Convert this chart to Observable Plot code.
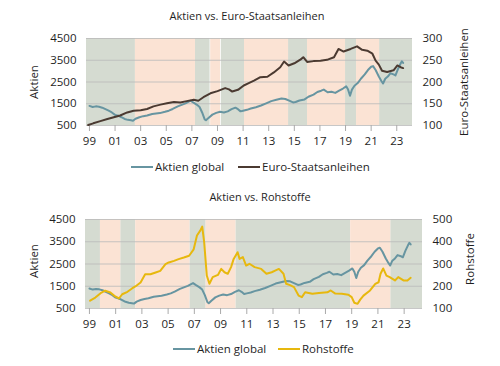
<!DOCTYPE html>
<html><head><meta charset="utf-8">
<script src="https://cdn.jsdelivr.net/npm/d3@7"></script>
<script src="https://cdn.jsdelivr.net/npm/@observablehq/plot@0.6"></script>
<style>
body{margin:0;background:#fff;font-family:"Open Sans",sans-serif;}
#wrap{position:relative;width:500px;height:366px;overflow:hidden;}
.t{position:absolute;font-size:11px;line-height:15px;color:#1f1f1f;white-space:nowrap;transform:translateX(-50%);}
.ax{position:absolute;font-size:11.5px;line-height:15px;color:#1f1f1f;white-space:nowrap;transform:translate(-50%,-50%) rotate(-90deg);}
.lg{position:absolute;font-size:11.5px;line-height:15px;color:#1f1f1f;display:flex;align-items:center;white-space:nowrap}
.sw{display:inline-block;width:22px;height:2px;margin-right:2px}
#wrap svg{position:absolute;left:0}
</style></head><body><div id="wrap"></div>
<script>
// ---- Aktien global (visual time axis, decimal years) ----
const aktienYear = [1999.0,1999.25,1999.5,1999.75,2000.0,2000.25,2000.5,2000.75,2001.0,2001.25,2001.5,2001.75,2002.0,2002.25,2002.4,2002.6,2002.9,2003.2,2003.5,2003.9,2004.2,2004.5,2004.9,2005.2,2005.5,2005.9,2006.2,2006.5,2006.9,2007.1,2007.4,2007.6,2007.8,2008.0,2008.1,2008.3,2008.6,2008.9,2009.2,2009.5,2009.8,2010.1,2010.4,2010.6,2010.8,2011.0,2011.3,2011.6,2012.0,2012.4,2012.8,2013.2,2013.6,2014.0,2014.3,2014.6,2014.9,2015.1,2015.4,2015.8,2016.1,2016.5,2016.8,2017.1,2017.3,2017.6,2017.9,2018.2,2018.5,2018.8,2019.05,2019.2,2019.35,2019.5,2019.7,2019.95,2020.2,2020.5,2020.75,2021.0,2021.15,2021.35,2021.6,2021.8,2021.93,2022.1,2022.3,2022.5,2022.75,2022.9,2023.1,2023.3,2023.4,2023.5];
const aktienValue = [1400,1350,1380,1360,1320,1250,1180,1100,990,950,880,800,760,740,720,810,880,930,960,1030,1050,1070,1130,1180,1260,1380,1450,1520,1640,1560,1450,1350,1100,780,740,850,1000,1080,1130,1100,1150,1250,1320,1250,1150,1180,1220,1280,1340,1420,1520,1620,1680,1740,1720,1640,1560,1580,1650,1700,1820,1920,2040,2100,2150,2030,2050,2000,2100,2200,2300,2150,1870,2150,2330,2450,2650,2850,3050,3200,3230,3050,2750,2550,2430,2650,2750,2900,2850,2800,3100,3350,3450,3380];

// ---- Euro-Staatsanleihen ----
const bondYear = [1998.9,1999.3,1999.85,2000.4,2000.9,2001.4,2001.95,2002.45,2003.0,2003.5,2004.0,2004.55,2005.05,2005.6,2006.1,2006.6,2007.15,2007.5,2007.9,2008.45,2009.0,2009.6,2009.9,2010.15,2010.6,2011.05,2011.4,2011.85,2012.35,2012.9,2013.4,2013.9,2014.2,2014.55,2015.0,2015.5,2015.7,2016.0,2016.5,2017.05,2017.55,2018.1,2018.45,2018.85,2019.4,2019.9,2020.3,2020.7,2021.1,2021.35,2021.6,2021.85,2022.25,2022.75,2023.05,2023.3,2023.5];
const bondValue = [101,105,110,115,119,123,130,134,135,138,144,148,151,154,153,156,159,157,165,174,179,186,183,178,182,192,197,203,211,212,222,234,247,238,243,252,257,246,248,249,251,257,276,270,276,282,274,272,265,249,240,226,223,227,238,234,232];

// ---- Rohstoffe ----
const rohYear = [1999.05,1999.45,1999.85,2000.2,2000.6,2000.9,2001.25,2001.5,2001.9,2002.25,2002.5,2002.9,2003.25,2003.65,2004.05,2004.4,2004.8,2005.05,2005.45,2005.8,2006.2,2006.6,2006.95,2007.2,2007.45,2007.6,2007.75,2007.85,2007.95,2008.15,2008.4,2008.8,2009.05,2009.3,2009.55,2009.8,2010.0,2010.3,2010.45,2010.7,2010.95,2011.2,2011.6,2012.1,2012.5,2012.9,2013.2,2013.45,2013.8,2014.0,2014.3,2014.6,2014.95,2015.2,2015.45,2016.0,2016.5,2017.15,2017.4,2017.75,2018.25,2018.75,2019.0,2019.2,2019.45,2019.65,2019.9,2020.4,2020.8,2021.05,2021.2,2021.4,2021.65,2021.9,2022.3,2022.55,2022.95,2023.25,2023.5];
const rohValue = [135,149,169,180,172,157,145,164,175,190,199,217,254,254,262,269,299,307,314,322,329,337,366,428,450,468,398,323,248,211,241,251,278,263,256,286,323,353,323,331,293,301,286,278,256,263,271,278,256,211,205,196,158,151,173,166,170,173,181,167,166,162,151,126,121,140,158,181,211,218,256,280,248,241,226,241,226,226,238];

// ---- Regime shading ----
const regimeTopStart = [1998.77,2002.59,2007.28,2008.47,2009.3,2011.11,2014.55,2016.03,2019.0,2019.86,2021.66];
const regimeTopEnd   = [2002.59,2007.28,2008.42,2009.24,2011.11,2014.55,2016.03,2019.0,2019.86,2021.66,2024.23];
const regimeTopKind  = ["g","p","g","p","g","p","g","p","g","p","g"];
const regimeBotStart = [1998.7,1999.84,2001.39,2002.53,2006.66,2007.9,2010.17,2018.92,2021.98];
const regimeBotEnd   = [1999.84,2001.39,2002.53,2006.66,2007.9,2010.17,2018.92,2021.98,2024.4];
const regimeBotKind  = ["g","p","g","p","g","p","g","p","g"];

// ---- Ticks ----
const xTicks = [1999,2001,2003,2005,2007,2009,2011,2013,2015,2017,2019,2021,2023];
const leftTicks = [500,1500,2500,3500,4500];
const bondTicks = [100,150,200,250,300];
const rohTicks = [100,200,300,400,500];

const COLORS = {aktien:"#6795a1", bond:"#4b3a31", roh:"#e7b80e", g:"#d5dbd1", p:"#fbe3d4"};

const zip = (xs, vs) => xs.map((x,i)=>({year:x, v:vs[i]}));
const regimes = (s,e,k) => s.map((x,i)=>({start:x, end:e[i], kind:k[i]}));
const yy = d => String(d % 100).padStart(2,"0");

function chart(o){
  const reg = regimes(o.rs, o.re, o.rk);
  return Plot.plot({
    width:500, height:o.height,
    marginTop:o.mt, marginBottom:o.mb, marginLeft:o.ml, marginRight:o.mr,
    style:{fontFamily:"Open Sans, sans-serif", fontSize:"11.5px", color:"#1f1f1f", background:"transparent", overflow:"visible"},
    x:{type:"linear", domain:o.domain},
    y:{domain:[500,4500]},
    marks:[
      Plot.rect(reg.filter(d=>d.kind==="g"), {x1:"start", x2:"end", fill:COLORS.g}),
      Plot.rect(reg.filter(d=>d.kind==="p"), {x1:"start", x2:"end", fill:COLORS.p}),
      Plot.gridY(leftTicks, {stroke:"#b9b9b9", strokeOpacity:0.8, strokeWidth:1}),
      Plot.axisX(xTicks, {tickFormat:yy, tickSize:6, tickPadding:5, stroke:"#aaa", label:null}),
      Plot.axisY(leftTicks, {anchor:"left", tickSize:0, tickPadding:10, tickFormat:d=>String(d), label:null}),
      Plot.axisY(o.rt.map(o.map), {anchor:"right", tickSize:0, tickPadding:10, tickFormat:d=>String(Math.round(o.inv(d))), label:null}),
      Plot.line(zip(aktienYear, aktienValue), {x:"year", y:"v", stroke:COLORS.aktien, strokeWidth:2}),
      Plot.line(zip(o.sy, o.sv), {x:"year", y:d=>o.map(d.v), stroke:o.color, strokeWidth:2})
    ]
  });
}

const wrap = document.getElementById("wrap");
const mapB = v => 500 + (v-100)*20, invB = y => 100 + (y-500)/20;
const mapR = v => 500 + (v-100)*10, invR = y => 100 + (y-500)/10;

const chartTop = chart({height:160, mt:38, mb:35, ml:86, mr:88, domain:[1998.77,2024.23],
  rs:regimeTopStart, re:regimeTopEnd, rk:regimeTopKind, rt:bondTicks, map:mapB, inv:invB,
  sy:bondYear, sv:bondValue, color:COLORS.bond});
chartTop.style.top = "0px";
wrap.appendChild(chartTop);

const chartBot = chart({height:160, mt:39, mb:32, ml:85, mr:78, domain:[1998.7,2024.4],
  rs:regimeBotStart, re:regimeBotEnd, rk:regimeBotKind, rt:rohTicks, map:mapR, inv:invR,
  sy:rohYear, sv:rohValue, color:COLORS.roh});
chartBot.style.top = "180px";
wrap.appendChild(chartBot);

function add(html){ const d=document.createElement("div"); d.innerHTML=html; wrap.appendChild(d.firstElementChild); }
add(`<div class="t" style="left:247px;top:8px">Aktien vs. Euro-Staatsanleihen</div>`);
add(`<div class="t" style="left:260px;top:189px">Aktien vs. Rohstoffe</div>`);
add(`<div class="ax" style="left:33px;top:82px">Aktien</div>`);
add(`<div class="ax" style="left:463px;top:82px">Euro-Staatsanleihen</div>`);
add(`<div class="ax" style="left:33px;top:261px">Aktien</div>`);
add(`<div class="ax" style="left:469px;top:259px">Rohstoffe</div>`);
add(`<div class="lg" style="left:131px;top:159px"><span class="sw" style="background:${COLORS.aktien}"></span>Aktien global</div>`);
add(`<div class="lg" style="left:238px;top:159px"><span class="sw" style="background:${COLORS.bond}"></span>Euro-Staatsanleihen</div>`);
add(`<div class="lg" style="left:173px;top:341px"><span class="sw" style="background:${COLORS.aktien}"></span>Aktien global</div>`);
add(`<div class="lg" style="left:278px;top:341px"><span class="sw" style="background:${COLORS.roh}"></span>Rohstoffe</div>`);
</script></body></html>
